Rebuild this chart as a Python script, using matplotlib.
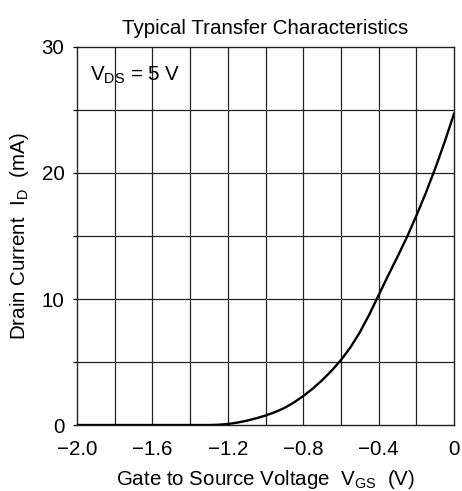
import numpy as np
import matplotlib
matplotlib.use("Agg")
import matplotlib.pyplot as plt

# gate-source voltage (V) and drain current (mA)
vgs = [-2.0, -1.4, -1.3, -1.25, -1.2, -1.15, -1.1, -1.05, -1.0, -0.95, -0.9,
       -0.85, -0.8, -0.75, -0.7, -0.65, -0.6, -0.55, -0.5, -0.45, -0.4,
       -0.35, -0.3, -0.25, -0.2, -0.15, -0.1, -0.05, 0.0]
i_d = [0.0, 0.0, 0.0, 0.02, 0.08, 0.19, 0.34, 0.53, 0.75, 1.02, 1.35,
       1.78, 2.3, 2.88, 3.55, 4.3, 5.15, 6.15, 7.35, 8.75, 10.3,
       11.85, 13.35, 14.9, 16.6, 18.4, 20.35, 22.45, 24.7]

x_ticks = [-2.0, -1.6, -1.2, -0.8, -0.4, 0.0]
x_tick_labels = ["\u22122.0", "\u22121.6", "\u22121.2", "\u22120.8", "\u22120.4", "0"]
y_ticks = [0, 10, 20, 30]

plt.rcParams['font.family'] = ['Liberation Sans', 'DejaVu Sans']
plt.rcParams['mathtext.fontset'] = 'custom'
plt.rcParams['mathtext.rm'] = 'Liberation Sans'
plt.rcParams['mathtext.it'] = 'Liberation Sans'
plt.rcParams['mathtext.default'] = 'regular'

fs = 14.8

fig = plt.figure(figsize=(4.62, 4.91), dpi=100)
ax = fig.add_axes([0.1667, 0.1344, 0.8160, 0.7699])

ax.plot(vgs, i_d, color='black', lw=1.7, zorder=3)

ax.set_xlim(-2.0, 0.0)
ax.set_ylim(0, 30)

# grid every 0.2 V and 5 mA
for gx in np.arange(-1.8, 0.0, 0.2):
    ax.axvline(gx, color='#222222', lw=0.9, zorder=1)
for gy in range(5, 30, 5):
    ax.axhline(gy, color='#222222', lw=0.9, zorder=1)

ax.set_xticks(x_ticks)
ax.set_xticklabels(x_tick_labels)
ax.set_yticks(y_ticks)
ax.set_yticks([5, 15, 25], minor=True)
ax.tick_params(axis='x', length=0, pad=11, labelsize=fs)
ax.tick_params(axis='y', which='both', length=3, width=0.9, direction='out',
               pad=6, labelsize=fs)

for s in ax.spines.values():
    s.set_linewidth(1.0)
    s.set_color('#222222')

ax.set_title('Typical Transfer Characteristics', fontsize=fs, pad=9)
ax.set_xlabel('Gate to Source Voltage  $V_{GS}$  (V)', fontsize=fs, labelpad=6)
ax.set_ylabel('Drain Current  $I_{D}$  (mA)', fontsize=fs, labelpad=8)

ax.text(-1.93, 27.3, '$V_{DS}$ = 5 V', fontsize=fs, va='baseline', ha='left')

fig.savefig('out.png', dpi=100)
